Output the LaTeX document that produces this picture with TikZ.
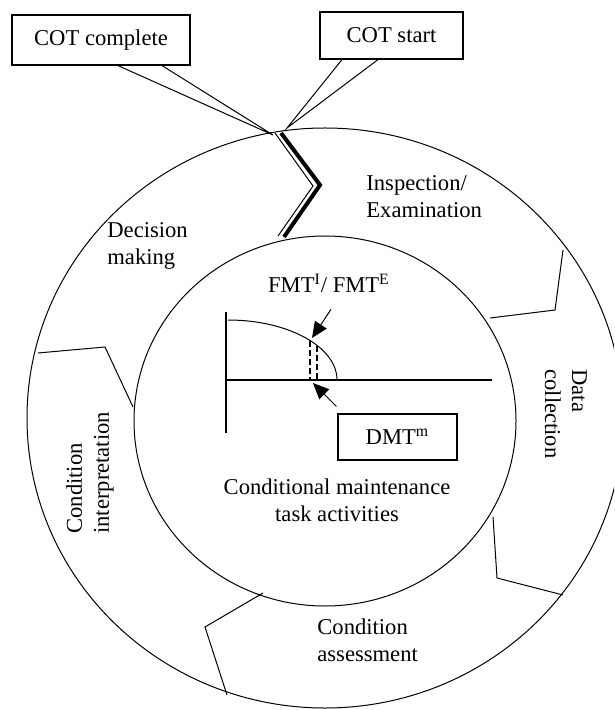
\documentclass[tikz,border=0pt]{standalone}
\usepackage{fontspec}
\setmainfont{Liberation Serif}
\usetikzlibrary{arrows.meta}

\tikzset{
  every node/.style={font=\fontsize{11.3}{13.5}\selectfont},
  callout/.style={draw,line width=0.6pt,fill=white,inner sep=2pt},
  phase/.style={align=left,anchor=west,inner sep=0pt},
  tri/.style={-{Triangle[length=8pt,width=7pt]},line width=0.5pt}
}

\begin{document}
\begin{tikzpicture}[x=0.5pt,y=-0.5pt]
\clip (0,0) rectangle (614,710);
\draw[line width=0.5pt] (325,418) ellipse [x radius=298, y radius=290];
\draw[line width=0.5pt] (325,421) ellipse [x radius=191, y radius=185];
\draw[line width=0.5pt] (490,318) -- (555,310) -- (563,250);
\draw[line width=0.5pt] (493,517) -- (497,578) -- (563,595);
\draw[line width=0.5pt] (263,593) -- (205,627) -- (227,695);
\draw[line width=0.5pt] (133,407) -- (105,347) -- (38,353);
\draw[line width=2pt,line join=miter] (281,133) -- (320,185) -- (284,237);
\draw[line width=0.5pt] (275,133) -- (313,186) -- (278,236);
\node[callout,minimum width=89pt,minimum height=25pt] (cotc) at (101,40) {COT complete};
\node[callout,minimum width=71.5pt,minimum height=23.5pt] (cots) at (391.5,35.5) {COT start};
\coordinate (cotA) at (273,135);
\coordinate (cotB) at (287,128);
\draw[line width=0.5pt] ([xshift=8.5pt]cotc.south) -- (cotA) -- ([xshift=30.5pt]cotc.south);
\draw[line width=0.5pt] ([xshift=-24.75pt]cots.south) -- (cotB) -- ([xshift=-6.75pt]cots.south);
\node[phase] (insp) at (366,197) {Inspection/\\Examination};
\node[phase] (dec) at (107,246) {Decision\\making};
\node[phase,rotate=-90] (data) at (566,369) {Data\\collection};
\node[phase,rotate=90] (interp) at (90,534) {Condition\\interpretation};
\node[phase] (assess) at (317,640) {Condition\\assessment};
\node[align=center] (task) at (337,500) {Conditional maintenance\\task activities};
\draw[line width=1pt] (226,312) -- (226,433);
\draw[line width=1.4pt] (226,380) -- (428,380);
\draw[line width=0.7pt] (428,380) -- (492,380);
\draw[line width=0.5pt] (228,320) arc [start angle=-90, end angle=0, x radius=109, y radius=60];
\draw[line width=0.8pt,dashed,dash pattern=on 3pt off 1.5pt] (310,341) -- (310,380);
\draw[line width=0.8pt,dashed,dash pattern=on 3pt off 1.5pt] (317,346) -- (317,380);
\node (fmt) at (329,283) {FMT\textsuperscript{I}/ FMT\textsuperscript{E}};
\node[callout,minimum width=59.5pt,minimum height=23pt] (dmt) at (397.5,437) {DMT\textsuperscript{m}};
\coordinate (fmtpt) at (312,338);
\coordinate (dmtpt) at (313,383);
\draw[tri] ([xshift=1pt,yshift=-5pt]fmt.south) -- (fmtpt);
\draw[tri] ([shift={(-0.5pt,3.5pt)}]dmt.north west) -- (dmtpt);
\end{tikzpicture}
\end{document}
